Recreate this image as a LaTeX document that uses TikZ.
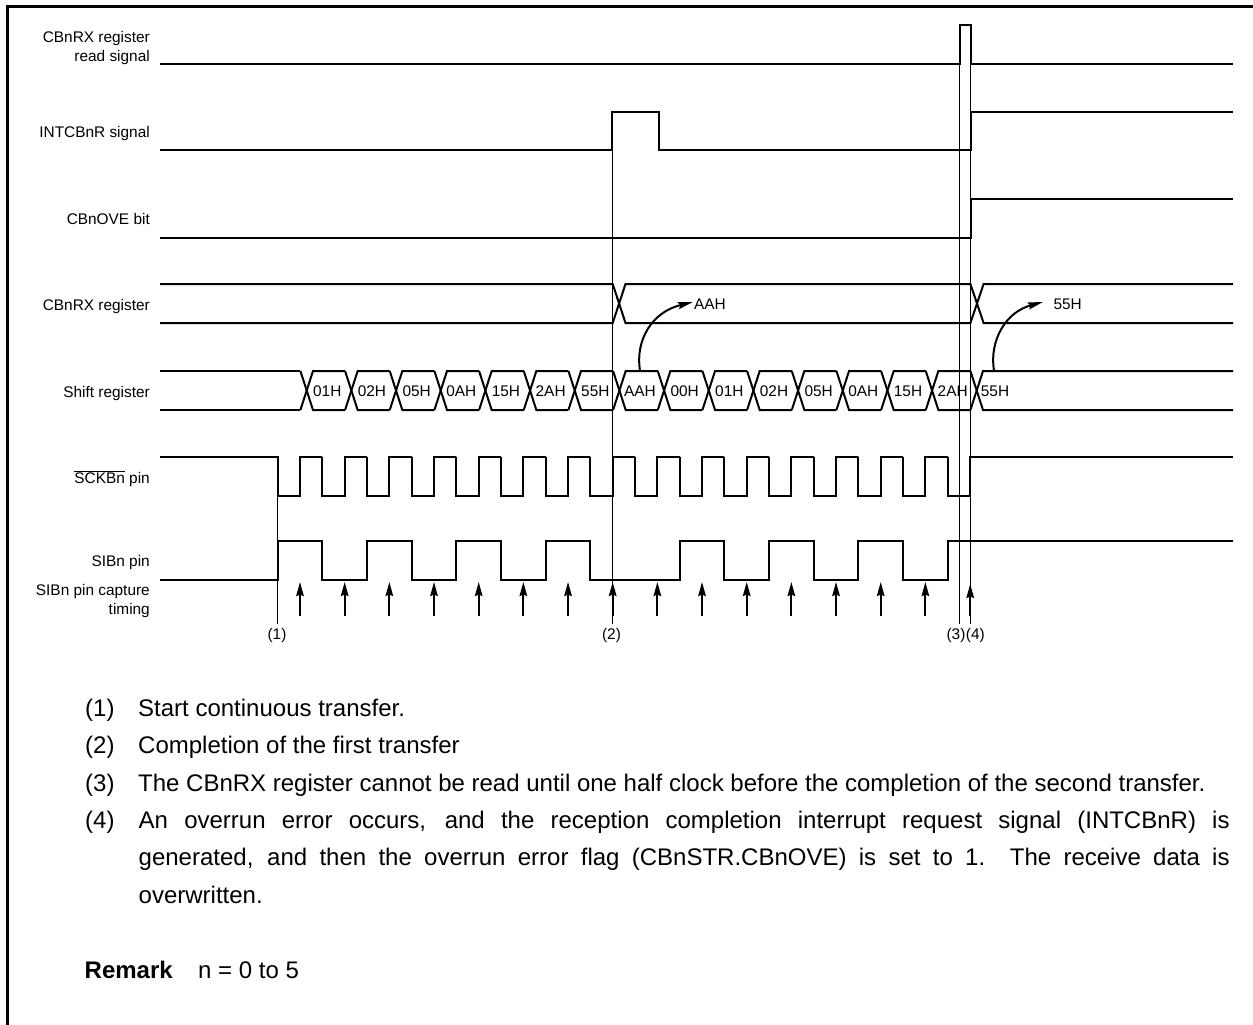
\documentclass[tikz,border=0pt]{standalone}
\usepackage{fontspec}
\setmainfont{Liberation Sans}
\usetikzlibrary{arrows.meta}
\tikzset{
  wave/.style={line width=2pt,line join=miter,line cap=butt},
  guide/.style={line width=1pt},
  frameline/.style={line width=3pt},
  lab/.style={inner sep=0pt,anchor=base east,font=\fontsize{15.4}{19}\selectfont},
  val/.style={inner sep=0pt,font=\fontsize{15.4}{19}\selectfont},
  capt/.style={line width=2pt,-{Stealth[length=14pt,width=7.5pt,inset=1.5pt]}},
  xfer/.style={line width=2pt,-{Stealth[length=15pt,width=7pt,inset=2pt]}},
  note/.style={inner sep=0pt,anchor=base west,font=\fontsize{24}{37.45}\selectfont},
}
\begin{document}
\begin{tikzpicture}[x=1pt,y=-1pt]
\useasboundingbox (0,0) rectangle (1253,1025);
\fill[white] (0,0) rectangle (1253,1025);
\draw[frameline] (7.5,1025) -- (7.5,6.5) -- (1253,6.5);
% simple signals
\draw[wave] (160,64) -- (959.5,64) -- (959.5,25.5) -- (971,25.5) -- (971,64) -- (1233,64);
\draw[wave] (160,150) -- (612,150) -- (612,112) -- (658.5,112) -- (658.5,150) -- (971,150) -- (971,112) -- (1233,112);
\draw[wave] (160,238) -- (971,238) -- (971,199) -- (1233,199);
% CBnRX register bus
\draw[wave] (160,284) -- (612.7,284) -- (625.5,323) -- (970.4,323) -- (983.6,284) -- (1233,284);
\draw[wave] (160,323) -- (612.7,323) -- (625.5,284) -- (970.4,284) -- (983.6,323) -- (1233,323);
% Shift register bus
\foreach \i [evaluate=\i as \a using 300.4+44.67*\i,
             evaluate=\i as \b using 313+44.67*\i,
             evaluate=\i as \c using 345.07+44.67*\i] in {0,...,14}{
  \draw[wave] (\a,371) -- (\b,410) -- (\c,410);
  \draw[wave] (\a,410) -- (\b,371) -- (\c,371);
}
\draw[wave] (160,371) -- (300.4,371);
\draw[wave] (160,410) -- (300.4,410);
\draw[wave] (970.4,371) -- (983,410) -- (1233,410);
\draw[wave] (970.4,410) -- (983,371) -- (1233,371);
% SCKBn
\draw[wave] (160,457) -- (277.5,457)
  \foreach \i [evaluate=\i as \f using 277.5+44.67*\i,
               evaluate=\i as \r using 300+44.67*\i,
               evaluate=\i as \g using 322.2+44.67*\i] in {0,...,14}{
    -- (\f,457) -- (\f,496) -- (\r,496) -- (\r,457) -- (\g,457) }
  ;
\draw[wave] (947.5,457) -- (947.5,496) -- (970.3,496) -- (970.3,457) -- (1233,457);
% SIBn
\draw[wave] (160,580) -- (277.5,580) -- (277.5,541) -- (322.2,541) -- (322.2,580)
  -- (367,580) -- (367,541) -- (411.5,541) -- (411.5,580)
  -- (456.2,580) -- (456.2,541) -- (500.8,541) -- (500.8,580)
  -- (545.5,580) -- (545.5,541) -- (590.2,541) -- (590.2,580)
  -- (679.5,580) -- (679.5,541) -- (724.2,541) -- (724.2,580)
  -- (768.9,580) -- (768.9,541) -- (813.5,541) -- (813.5,580)
  -- (858.2,580) -- (858.2,541) -- (902.9,541) -- (902.9,580)
  -- (947.5,580) -- (947.5,541) -- (1233,541);
% capture arrows
\foreach \i [evaluate=\i as \a using 300+44.67*\i] in {0,...,14}{
  \draw[capt] (\a,615.5) -- (\a,582);
}
\draw[capt] (970.2,615.5) -- (970.2,584);
% guide lines
\draw[guide] (277.3,496) -- (277.3,623.5);
\draw[guide] (612.5,112) -- (612.5,623.5);
\draw[guide] (959.7,64) -- (959.7,623.5);
\draw[guide] (970.2,64) -- (970.2,623.5);
% transfer arrows
\draw[xfer] (640,371) .. controls (635,340) and (652,312) .. (693,302);
\draw[xfer] (994,371) .. controls (989,340) and (1006,312) .. (1043,302);
% signal labels
\node[lab] (l1a) at (150,42.8) {CBnRX register};
\node[lab] (l1b) at (150,62) {read signal};
\node[lab] (l2) at (150,137) {INTCBnR signal};
\node[lab] (l3) at (150,224) {CBnOVE bit};
\node[lab] (l4) at (150,310) {CBnRX register};
\node[lab] (l5) at (150,397) {Shift register};
\node[lab] (l6) at (150,483) {$\overline{\hbox{SCKBn}}$ pin};
\node[lab] (l7) at (150,566.5) {SIBn pin};
\node[lab] (l8a) at (150,595) {SIBn pin capture};
\node[lab] (l8b) at (150,614) {timing};
% bus values
\foreach \v [count=\n from 0, evaluate=\n as \x using 327.3+44.67*\n] in {01H,02H,05H,0AH,15H,2AH,55H,AAH,00H,01H,02H,05H,0AH,15H,2AH}{
  \node[val] (s\n) at (\x,391.5) {\v};
}
\node[val] (s15) at (995,391.5) {55H};
\node[val] (r1) at (710,304.5) {AAH};
\node[val] (r2) at (1067.7,304.5) {55H};
% event marks
\node[val] (e1) at (277,636) {(1)};
\node[val] (e2) at (611.5,636) {(2)};
\node[val] (e3) at (956,636) {(3)};
\node[val] (e4) at (975.3,636) {(4)};
% notes
\node[note] (n1a) at (85,716) {(1)};
\node[note] (n1b) at (138,716) {Start continuous transfer.};
\node[note] (n2a) at (85,753.5) {(2)};
\node[note] (n2b) at (138,753.5) {Completion of the first transfer};
\node[note] (n3a) at (85,791) {(3)};
\node[note] (n3b) at (138,791) {The CBnRX register cannot be read until one half clock before the completion of the second transfer.};
\node[note] (n4a) at (85,828.3) {(4)};
\node[note,text width=1091pt,align=justify] (n4b) at (138.5,828.3) {\hbadness=10000 An overrun error occurs, and the reception completion interrupt request signal (INTCBnR) is\linebreak generated, and then the overrun error flag (CBnSTR.CBnOVE) is set to 1.\ \ The receive data is\linebreak overwritten.};
\node[note,font=\fontsize{24}{37.45}\selectfont\bfseries] (rm) at (84.5,978) {Remark};
\node[note] (rt) at (198,978) {n = 0 to 5};
\end{tikzpicture}
\end{document}
